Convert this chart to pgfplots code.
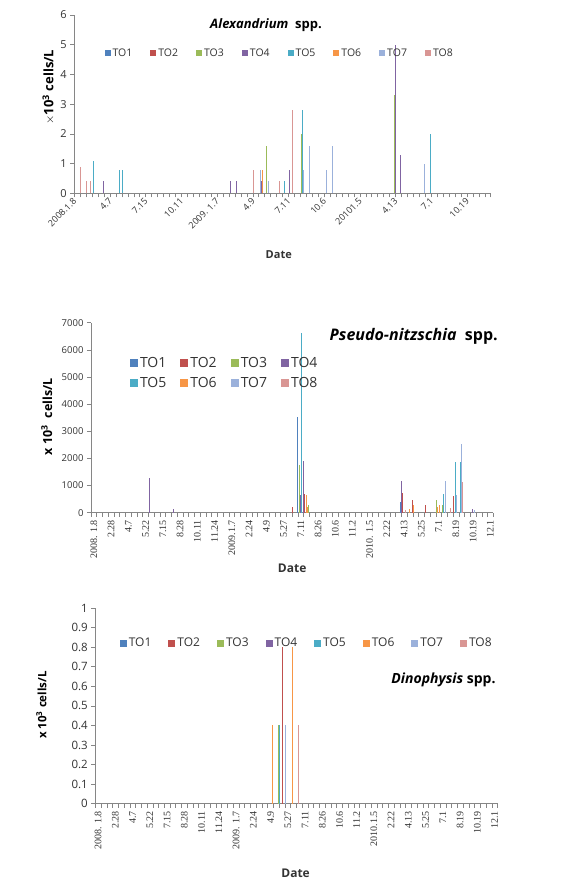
\documentclass[border=0pt]{standalone}
\usepackage{fontspec}
\setmainfont{Open Sans}
\newfontfamily\serifticks{Liberation Serif}
\usepackage{pgfplots}
\pgfplotsset{compat=1.18}
\definecolor{cA}{HTML}{4F81BD}
\definecolor{cB}{HTML}{C0504D}
\definecolor{cC}{HTML}{9BBB59}
\definecolor{cD}{HTML}{8064A2}
\definecolor{cE}{HTML}{4BACC6}
\definecolor{cF}{HTML}{F79646}
\definecolor{cG}{HTML}{9BB1DB}
\definecolor{cH}{HTML}{D99694}
\definecolor{axgrey}{HTML}{868686}
\definecolor{txt}{HTML}{333333}
\pgfplotsset{
  exstyle/.style={
    scale only axis,
    axis x line=bottom, axis y line=left,
    axis line style={-, color=axgrey, line width=0.6pt},
    xmin=-0.5, xmax=69.5, ymin=0,
    tick align=outside,
    major tick length=4pt, minor tick length=4pt,
    every major x tick/.append style={draw=none},
    every minor x tick/.append style={draw=axgrey, line width=0.5pt},
    every major y tick/.append style={draw=axgrey, line width=0.5pt},
    minor xtick={-0.5,0.5,...,69.5},
    /pgf/number format/assume math mode=true,
    /pgf/number format/1000 sep={},
    yticklabel style={font=\fontsize{11}{13}\selectfont, text=txt},
    legend style={draw=none, fill=none, text=txt},
    xlabel={Date}, 
    xlabel style={font=\bfseries\fontsize{11}{13}\selectfont, text=txt},
    ylabel style={font=\bfseries\fontsize{11}{13}\selectfont, text=black, anchor=center},
    clip=false,
  },
  bars/.style={ycomb, mark=none, line width=0.9pt},
}
\begin{document}
\begin{tikzpicture}
\useasboundingbox (0pt,0pt) rectangle (565pt,885pt);
% ---------------- Panel 1: Alexandrium ----------------
\begin{axis}[exstyle,
  at={(74.3pt,691.7pt)}, anchor=south west,
  width=416.4pt, height=178.3pt,
  ymax=6, ytick={0,1,...,6},
  xtick={0,6,...,66},
  xticklabels={2008.1.8,4.7,7.15,10.11,{2009. 1.7},4.9,7.11,10.6,20101.5,4.13,7.1,10.19},
  xticklabel style={rotate=45, anchor=east, font=\fontsize{9}{11}\selectfont, text=txt},
  xlabel style={at={(axis description cs:0.491,-0.346)}, anchor=center},
  ylabel={$\times$10\textsuperscript{3} cells/L},
  ylabel style={at={(axis description cs:-0.062,0.596)}, font=\bfseries\fontsize{13}{15}\selectfont},
  legend columns=8,
  legend image code/.code={\fill[#1,draw=none] (0pt,-3pt) rectangle (6pt,3pt);},
  legend style={at={(axis description cs:0.065,0.787)}, anchor=west,
    font=\fontsize{10.5}{12}\selectfont,
    /tikz/every even column/.append style={column sep=16pt}},
]
\addlegendimage{cA}
\addlegendentry{TO1}
\addlegendimage{cB}
\addlegendentry{TO2}
\addplot[bars, cC] coordinates {(31.84,1.6) (37.72,2.0) (53.35,3.3)};
\addlegendentry{TO3}
\addplot[bars, cD] coordinates {(4.44,0.4) (25.79,0.4) (26.73,0.4) (30.88,0.4) (35.70,0.8) (53.45,5.0) (54.36,1.3)};
\addlegendentry{TO4}
\addplot[bars, cE] coordinates {(2.64,1.1) (7.06,0.8) (7.57,0.8) (34.86,0.4) (37.82,2.8) (59.29,2.0)};
\addlegendentry{TO5}
\addplot[bars, cF] coordinates {(31.16,0.8)};
\addlegendentry{TO6}
\addplot[bars, cG] coordinates {(30.71,0.8) (32.22,0.4) (38.10,0.8) (39.00,1.6) (41.92,0.8) (42.93,1.6) (58.44,1.0)};
\addlegendentry{TO7}
\addplot[bars, cH] coordinates {(0.58,0.87) (1.58,0.4) (2.26,0.4) (29.65,0.8) (33.95,0.4) (36.21,2.8)};
\addlegendentry{TO8}
\end{axis}
\node[font=\bfseries\fontsize{13}{15}\selectfont] at (266pt,860pt) {\textit{Alexandrium}\ \ spp.};
% ---------------- Panel 2: Pseudo-nitzschia ----------------
\begin{axis}[exstyle,
  at={(91pt,372.3pt)}, anchor=south west,
  width=402.3pt, height=190pt,
  ymax=7000, ytick={0,1000,...,7000},
  yticklabel style={font=\fontsize{9.5}{11}\selectfont},
  xtick={0,3,...,69},
  xticklabels={{2008. 1.8},2.28,4.7,5.22,7.15,8.28,10.11,11.24,2009.1.7,2.24,4.9,5.27,7.11,8.26,10.6,11.2,{2010. 1.5},2.22,4.13,5.25,7.1,8.19,10.19,12.1},
  xticklabel style={rotate=90, anchor=east, font=\serifticks\fontsize{10}{12}\selectfont, text=txt},
  xlabel style={at={(axis description cs:0.5,-0.293)}, anchor=center, font=\bfseries\fontsize{12}{14}\selectfont},
  ylabel={x 10\textsuperscript{3}\ \ cells/L},
  ylabel style={at={(axis description cs:-0.11,0.505)}, font=\bfseries\fontsize{12.5}{14}\selectfont},
  legend columns=4,
  legend image code/.code={\fill[#1,draw=none] (0pt,-4pt) rectangle (8pt,4pt);},
  legend style={at={(axis description cs:0.089,0.84)}, anchor=north west,
    font=\fontsize{14}{16}\selectfont, row sep=4pt,
    /tikz/every even column/.append style={column sep=12pt}},
]
\addplot[bars, cA] coordinates {(35.5,3530) (53.3,390)};
\addlegendentry{TO1}
\addplot[bars, cB] coordinates {(9.73,600) (34.6,200) (36.7,700) (53.7,740) (55.5,450) (57.7,280) (62.6,630)};
\addlegendentry{TO2}
\addplot[bars, cC] coordinates {(35.7,1750) (37.4,300) (59.6,480) (60.7,300)};
\addlegendentry{TO3}
\addplot[bars, cD] coordinates {(9.6,1280) (13.8,120) (35.9,650) (36.5,1900) (53.5,1180) (65.9,120)};
\addlegendentry{TO4}
\addplot[bars, cE] coordinates {(36.05,6630) (60.8,700) (62.9,1850) (63.7,1850)};
\addlegendentry{TO5}
\addplot[bars, cF] coordinates {(37.0,650) (37.2,200) (54.9,150) (55.6,270) (59.85,200) (60.1,300)};
\addlegendentry{TO6}
\addplot[bars, cG] coordinates {(61.1,1150) (63.05,650) (63.9,2540) (66.3,100)};
\addlegendentry{TO7}
\addplot[bars, cH] coordinates {(54.3,100) (62.1,180) (64.1,1120)};
\addlegendentry{TO8}
\end{axis}
\node[font=\bfseries\fontsize{16}{18}\selectfont] at (413.7pt,548.3pt) {\textit{Pseudo-nitzschia}\ \ spp.};
% ---------------- Panel 3: Dinophysis ----------------
\begin{axis}[exstyle,
  at={(95.3pt,81.3pt)}, anchor=south west,
  width=402.2pt, height=195.7pt,
  ymax=1, ytick={0,0.1,...,1.0},
  yticklabel style={font=\fontsize{11.5}{13}\selectfont, /pgf/number format/fixed},
  xtick={0,3,...,69},
  xticklabels={{2008. 1.8},2.28,4.7,5.22,7.15,8.28,10.11,11.24,{2009. 1.7},2.24,4.9,5.27,7.11,8.26,10.6,11.2,2010.1.5,2.22,4.13,5.25,7.1,8.19,10.19,12.1},
  xticklabel style={rotate=90, anchor=east, font=\serifticks\fontsize{10}{12}\selectfont, text=txt},
  xlabel style={at={(axis description cs:0.498,-0.356)}, anchor=center, font=\bfseries\fontsize{12}{14}\selectfont},
  ylabel={x 10\textsuperscript{3} cells/L},
  ylabel style={at={(axis description cs:-0.134,0.504)}, font=\bfseries\fontsize{11.5}{13}\selectfont},
  legend columns=8,
  legend image code/.code={\fill[#1,draw=none] (0pt,-3.5pt) rectangle (7pt,3.5pt);},
  legend style={at={(axis description cs:0.053,0.82)}, anchor=west,
    font=\fontsize{12}{14}\selectfont,
    /tikz/every even column/.append style={column sep=15pt}},
]
\addlegendimage{cA}
\addlegendentry{TO1}
\addplot[bars, cB] coordinates {(32.09,0.8)};
\addlegendentry{TO2}
\addplot[bars, cC] coordinates {(31.45,0.4)};
\addlegendentry{TO3}
\addlegendimage{cD}
\addlegendentry{TO4}
\addplot[bars, cE] coordinates {(31.62,0.4)};
\addlegendentry{TO5}
\addplot[bars, cF] coordinates {(30.28,0.4) (33.76,0.8)};
\addlegendentry{TO6}
\addplot[bars, cG] coordinates {(32.67,0.4)};
\addlegendentry{TO7}
\addplot[bars, cH] coordinates {(34.80,0.4)};
\addlegendentry{TO8}
\end{axis}
\node[font=\bfseries\fontsize{14}{16}\selectfont] at (443.5pt,205pt) {\textit{Dinophysis} spp.};
\end{tikzpicture}
\end{document}
